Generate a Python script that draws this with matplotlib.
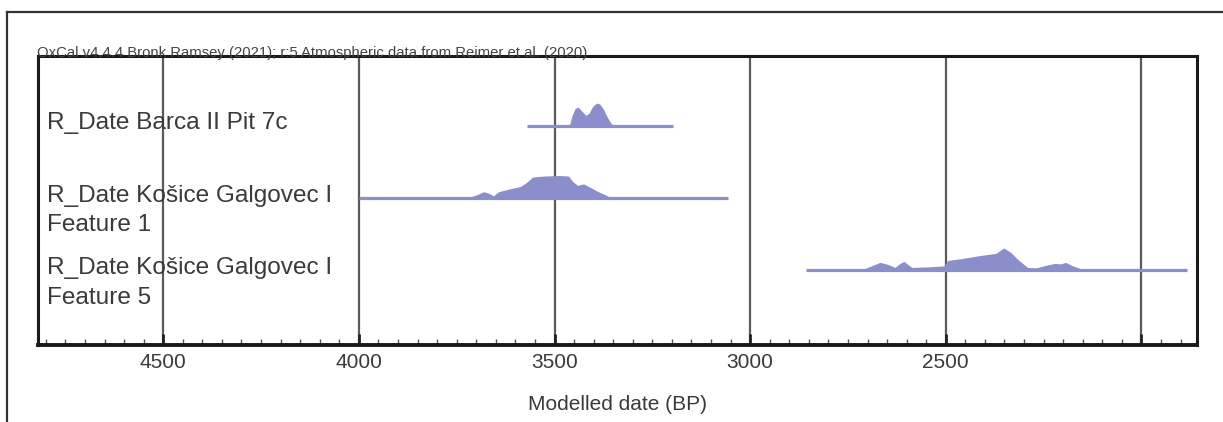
import matplotlib
matplotlib.use("Agg")
import matplotlib.pyplot as plt
import matplotlib.transforms as mtransforms
from matplotlib.ticker import MultipleLocator
import numpy as np

plt.rcParams['font.family'] = ['Liberation Sans', 'DejaVu Sans']

title = "OxCal v4.4.4 Bronk Ramsey (2021); r:5 Atmospheric data from Reimer et al. (2020)"
labels = ["R_Date Barca II Pit 7c",
          "R_Date Košice Galgovec I\nFeature 1",
          "R_Date Košice Galgovec I\nFeature 5"]
rows = [3, 2, 1]

# plotted range of each distribution (BP)
ranges = [(3571, 3196), (4000, 3056), (2857, 1883)]

# probability curves (relative units)
years1 = [3462, 3455, 3447, 3439, 3430, 3420, 3412, 3402, 3392, 3384, 3375, 3365, 3355, 3348]
prob1 = [0, 10, 17, 18, 14, 10, 12, 19, 22, 21, 16, 8, 2, 0]

years2 = [3724, 3699, 3681, 3668, 3656, 3643, 3617, 3587, 3571, 3556, 3528, 3490,
          3464, 3454, 3441, 3426, 3408, 3388, 3370, 3355]
prob2 = [0, 3, 6, 4.5, 2, 6, 8.5, 11, 15, 20, 21, 21.5, 21, 16, 12, 13.5, 10, 6, 3, 0]

years3 = [2717, 2694, 2668, 2648, 2630, 2617, 2607, 2597, 2587, 2546, 2505, 2495, 2457,
          2411, 2372, 2352, 2334, 2316, 2291, 2270, 2245, 2222, 2207, 2194, 2178, 2158, 2143]
prob3 = [0, 4, 8, 6, 3, 7, 9, 6, 3, 3.5, 4.5, 10, 12, 15, 17, 22.5, 18, 11, 3, 2.5,
         5, 7, 6.5, 8, 5, 2, 0]

curves = [(years1, prob1), (years2, prob2), (years3, prob3)]

major_ticks = [4500, 4000, 3500, 3000, 2500, 2000]
tick_labels = ["4500", "4000", "3500", "3000", "2500", ""]

col = '#8a8fcc'
txt = '#3a3a3a'

fig = plt.figure(figsize=(12.23, 4.22), dpi=100)
ax = fig.add_axes([38 / 1223, 1 - 345 / 422, 1159 / 1223, 289 / 422])

for r, (yrs, p), (a, b) in zip(rows, curves, ranges):
    p = np.array(p, dtype=float)
    ax.fill_between(yrs, r, r + p / p.max() * 0.31, color=col, lw=0, zorder=3)
    ax.plot([a, b], [r, r], color=col, lw=2.3, solid_capstyle='butt', zorder=3)

trans = mtransforms.blended_transform_factory(ax.transAxes, ax.transData)
for r, lab in zip(rows, labels):
    for i, line in enumerate(lab.split("\n")):
        ax.text(0.0078, r + 0.03 - i * 0.41, line, transform=trans, fontsize=17.6,
                color=txt, va='center', ha='left', zorder=4)

ax.set_xlim(4820, 1858)
ax.set_ylim(-0.03, 3.96)
ax.set_yticks([])
ax.set_xticks(major_ticks)
ax.set_xticklabels(tick_labels)
ax.xaxis.set_minor_locator(MultipleLocator(50))
ax.tick_params(axis='x', which='major', direction='in', length=8, width=2,
               labelsize=15, labelcolor=txt, pad=6, color='#222')
ax.tick_params(axis='x', which='minor', direction='in', length=4, width=1, color='#555')
ax.grid(axis='x', which='major', color='#5a5a5a', lw=1.6, zorder=1)
ax.set_axisbelow(True)
for s in ax.spines.values():
    s.set_linewidth(2.2)
    s.set_color('#1a1a1a')
ax.spines['bottom'].set_linewidth(2.8)

ax.set_xlabel("Modelled date (BP)", fontsize=15, color=txt, labelpad=16)
ax.text(-0.001, 0.997, title, transform=ax.transAxes, fontsize=10.7, color='#444',
        va='baseline', ha='left')

# outer frame
fig.add_artist(plt.Line2D([7 / 1223, 1.0], [1 - 12 / 422, 1 - 12 / 422],
                          transform=fig.transFigure, color='#333', lw=1.6))
fig.add_artist(plt.Line2D([7 / 1223, 7 / 1223], [0, 1 - 12 / 422],
                          transform=fig.transFigure, color='#333', lw=1.6))

fig.savefig("out.png", dpi=100)
